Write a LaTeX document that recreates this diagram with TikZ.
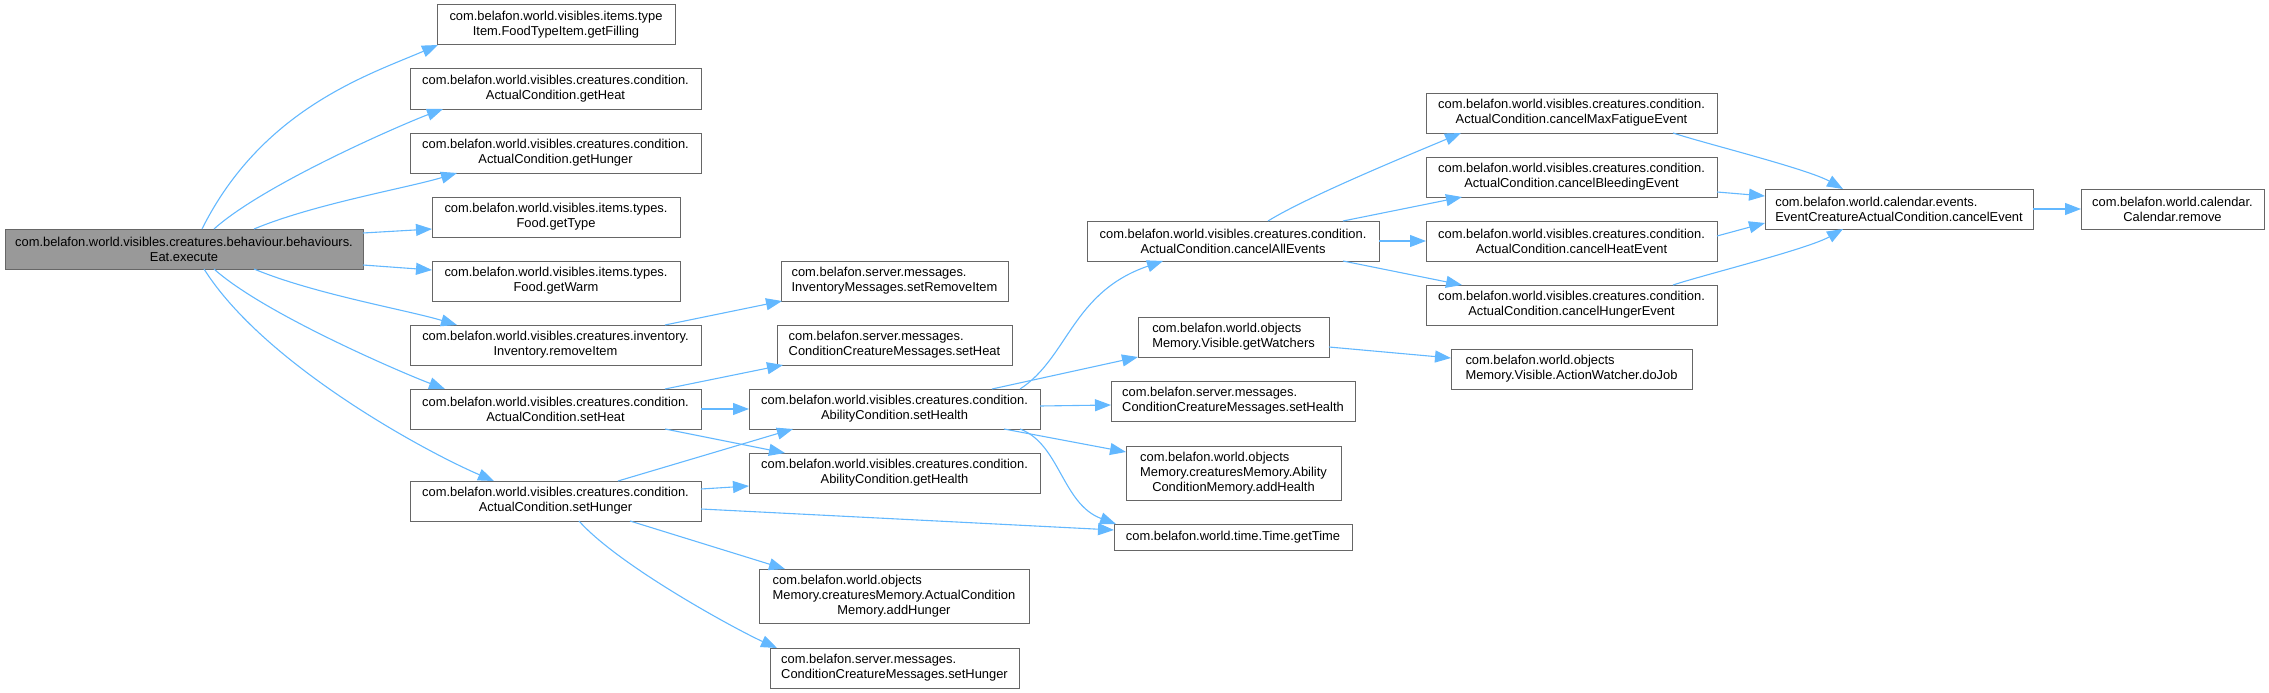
\documentclass[tikz,border=0pt]{standalone}
\usepackage{fontspec}
\setmainfont{Liberation Sans}
\usetikzlibrary{arrows.meta,calc}
\definecolor{edgeblue}{HTML}{63B8FF}
\definecolor{boxborder}{HTML}{666666}
\definecolor{rootfill}{HTML}{999999}
\begin{document}
\begin{tikzpicture}[x=1pt,y=-1pt,
  box/.style={draw=boxborder, fill=white, line width=1pt, inner sep=0pt, outer sep=0pt,
    minimum height=40pt, font=\fontsize{12.9}{15}\selectfont},
  rootbox/.style={box, fill=rootfill},
  call/.style={draw=edgeblue, line width=1.1pt, -{Triangle[length=16pt,width=12pt]}}]
\useasboundingbox (0,0) rectangle (2269,693);
% nodes
\node[rootbox, minimum width=358pt, align=center] (eat) at (184,249) {com.belafon.world.visibles.creatures.behaviour.behaviours.\\Eat.execute};
\node[box, minimum width=238pt, align=center] (getFilling) at (556,25) {com.belafon.world.visibles.items.type\\Item.FoodTypeItem.getFilling};
\node[box, minimum width=291pt, align=center] (getHeat) at (555.5,89) {com.belafon.world.visibles.creatures.condition.\\ActualCondition.getHeat};
\node[box, minimum width=291pt, align=center] (getHunger) at (555.5,153) {com.belafon.world.visibles.creatures.condition.\\ActualCondition.getHunger};
\node[box, minimum width=248pt, align=center] (getType) at (556,217) {com.belafon.world.visibles.items.types.\\Food.getType};
\node[box, minimum width=248pt, align=center] (getWarm) at (556,281) {com.belafon.world.visibles.items.types.\\Food.getWarm};
\node[box, minimum width=291pt, align=center] (removeItem) at (555.5,345) {com.belafon.world.visibles.creatures.inventory.\\Inventory.removeItem};
\node[box, minimum width=291pt, align=center] (setHeat) at (555.5,409) {com.belafon.world.visibles.creatures.condition.\\ActualCondition.setHeat};
\node[box, minimum width=291pt, align=center] (setHunger) at (555.5,501) {com.belafon.world.visibles.creatures.condition.\\ActualCondition.setHunger};
\node[box, minimum width=227pt, align=left] (setRemoveItem) at (894.5,281) {com.belafon.server.messages.\\InventoryMessages.setRemoveItem};
\node[box, minimum width=235pt, align=left] (ccmSetHeat) at (894.5,345) {com.belafon.server.messages.\\ConditionCreatureMessages.setHeat};
\node[box, minimum width=291pt, align=center] (setHealth) at (894.5,409) {com.belafon.world.visibles.creatures.condition.\\AbilityCondition.setHealth};
\node[box, minimum width=291pt, align=center] (getHealth) at (894.5,473) {com.belafon.world.visibles.creatures.condition.\\AbilityCondition.getHealth};
\node[box, minimum width=270pt, minimum height=54pt] (addHunger) at (894,596) {\begin{tabular}{@{}l@{}}com.belafon.world.objects\\Memory.creaturesMemory.ActualCondition\\\multicolumn{1}{@{}c@{}}{Memory.addHunger}\end{tabular}};
\node[box, minimum width=249pt, align=left] (ccmSetHunger) at (894.5,668) {com.belafon.server.messages.\\ConditionCreatureMessages.setHunger};
\node[box, minimum width=292pt, align=center] (cancelAllEvents) at (1233,241) {com.belafon.world.visibles.creatures.condition.\\ActualCondition.cancelAllEvents};
\node[box, minimum width=191pt, align=left] (getWatchers) at (1233.5,337) {com.belafon.world.objects\\Memory.Visible.getWatchers};
\node[box, minimum width=244pt, align=left] (ccmSetHealth) at (1233,401) {com.belafon.server.messages.\\ConditionCreatureMessages.setHealth};
\node[box, minimum width=215pt, minimum height=54pt] (addHealth) at (1233.5,473) {\begin{tabular}{@{}l@{}}com.belafon.world.objects\\Memory.creaturesMemory.Ability\\\multicolumn{1}{@{}c@{}}{ConditionMemory.addHealth}\end{tabular}};
\node[box, minimum width=238pt, minimum height=26pt] (getTime) at (1233,537) {com.belafon.world.time.Time.getTime};
\node[box, minimum width=291pt, align=center] (cancelMaxFatigue) at (1571.5,113) {com.belafon.world.visibles.creatures.condition.\\ActualCondition.cancelMaxFatigueEvent};
\node[box, minimum width=291pt, align=center] (cancelBleeding) at (1571.5,177) {com.belafon.world.visibles.creatures.condition.\\ActualCondition.cancelBleedingEvent};
\node[box, minimum width=291pt, align=center] (cancelHeat) at (1571.5,241) {com.belafon.world.visibles.creatures.condition.\\ActualCondition.cancelHeatEvent};
\node[box, minimum width=291pt, align=center] (cancelHunger) at (1571.5,305) {com.belafon.world.visibles.creatures.condition.\\ActualCondition.cancelHungerEvent};
\node[box, minimum width=241pt, align=left] (doJob) at (1571.5,369) {com.belafon.world.objects\\Memory.Visible.ActionWatcher.doJob};
\node[box, minimum width=268pt, align=left] (cancelEvent) at (1899,209) {com.belafon.world.calendar.events.\\EventCreatureActualCondition.cancelEvent};
\node[box, minimum width=183pt, align=center] (calRemove) at (2172.5,209) {com.belafon.world.calendar.\\Calendar.remove};
% edges from Eat.execute
\draw[call] ($(eat.north west)+(197,0)$) .. controls +(60,-120) and +(-70,30) .. ($(getFilling.south west)+(1,0)$);
\draw[call] ($(eat.north west)+(209,0)$) .. controls +(50,-45) and +(-40,15) .. ($(getHeat.south west)+(33,0)$);
\draw[call] ($(eat.north west)+(249,0)$) .. controls +(60,-25) and +(-50,15) .. ($(getHunger.south west)+(47,0)$);
\draw[call] ($(eat.north east)+(0,4)$) -- ($(getType.north west)+(0,32)$);
\draw[call] ($(eat.north east)+(0,36)$) -- ($(getWarm.north west)+(0,9)$);
\draw[call] ($(eat.south west)+(249,0)$) .. controls +(60,25) and +(-50,-15) .. ($(removeItem.north west)+(47,0)$);
\draw[call] ($(eat.south west)+(209,0)$) .. controls +(50,45) and +(-40,-15) .. ($(setHeat.north west)+(35,0)$);
\draw[call] ($(eat.south west)+(199,0)$) .. controls +(60,95) and +(-70,-30) .. ($(setHunger.north west)+(84,0)$);
% second level
\draw[call] ($(removeItem.north west)+(255,0)$) -- ($(setRemoveItem.south west)+(1,0)$);
\draw[call] ($(setHeat.north west)+(255,0)$) -- ($(ccmSetHeat.south west)+(6,0)$);
\draw[call] (setHeat.east) -- (setHealth.west);
\draw[call] ($(setHeat.south west)+(255,0)$) -- ($(getHealth.north west)+(36,0)$);
\draw[call] ($(setHunger.north west)+(208,0)$) -- ($(setHealth.south west)+(44,0)$);
\draw[call] ($(setHunger.north east)+(0,8)$) -- ($(getHealth.south west)+(0,-7)$);
\draw[call] ($(setHunger.north east)+(0,28)$) -- ($(getTime.north west)+(0,6)$);
\draw[call] ($(setHunger.south west)+(220,0)$) -- ($(addHunger.north west)+(26,0)$);
\draw[call] ($(setHunger.south west)+(169,0)$) .. controls +(40,45) and +(-40,-18) .. ($(ccmSetHunger.north west)+(7,0)$);
% from setHealth
\draw[call] ($(setHealth.north west)+(271,0)$) .. controls +(48,-31) and +(-91,31) .. ($(cancelAllEvents.south west)+(76,0)$);
\draw[call] ($(setHealth.north west)+(243,0)$) -- (getWatchers.south west);
\draw[call] ($(setHealth.north east)+(0,17)$) -- ($(ccmSetHealth.north west)+(0,24)$);
\draw[call] ($(setHealth.south west)+(255,0)$) -- ($(addHealth.north west)+(0,6)$);
\draw[call] ($(setHealth.south west)+(271,0)$) .. controls +(40,15) and +(-54,-20) .. ($(getTime.north west)+(2,0)$);
% from cancelAllEvents
\draw[call] ($(cancelAllEvents.north west)+(181,0)$) .. controls +(40,-25) and +(-40,17) .. ($(cancelMaxFatigue.south west)+(35,0)$);
\draw[call] ($(cancelAllEvents.north west)+(256,0)$) -- ($(cancelBleeding.south west)+(36,0)$);
\draw[call] (cancelAllEvents.east) -- (cancelHeat.west);
\draw[call] ($(cancelAllEvents.south west)+(256,0)$) -- ($(cancelHunger.north west)+(36,0)$);
\draw[call] ($(getWatchers.north east)+(0,30)$) -- ($(doJob.north west)+(0,9)$);
% to cancelEvent
\draw[call] ($(cancelMaxFatigue.south west)+(247,0)$) .. controls +(30,10) and +(-35,-20) .. ($(cancelEvent.north west)+(78,0)$);
\draw[call] ($(cancelBleeding.north east)+(0,35)$) -- ($(cancelEvent.north west)+(0,7)$);
\draw[call] ($(cancelHeat.north east)+(0,15)$) -- ($(cancelEvent.north west)+(0,34)$);
\draw[call] ($(cancelHunger.north west)+(247,0)$) .. controls +(30,-10) and +(-35,20) .. ($(cancelEvent.south west)+(78,0)$);
\draw[call] (cancelEvent.east) -- (calRemove.west);
\end{tikzpicture}
\end{document}
